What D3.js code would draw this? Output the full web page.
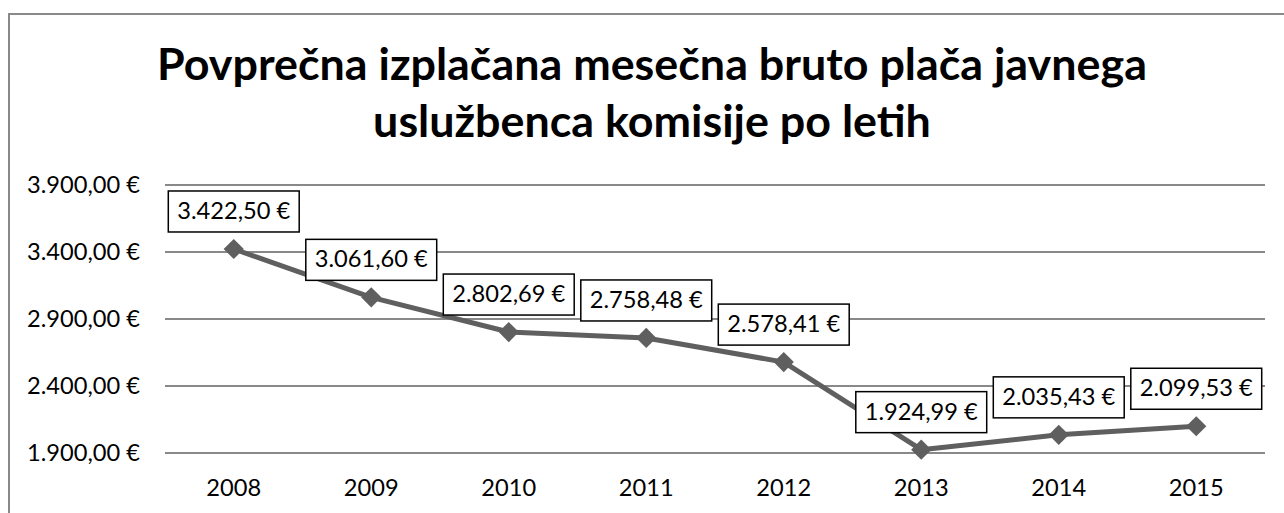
<!DOCTYPE html>
<html>
<head>
<meta charset="utf-8">
<script src="https://cdn.jsdelivr.net/npm/d3@7"></script>
<style>
  body { margin: 0; background: #fff; }
  svg { display: block; }
  text { font-family: Lato, 'Open Sans', sans-serif; fill: #000; }
</style>
</head>
<body>
<div id="chart"></div>
<script>
// data
var years = ['2008', '2009', '2010', '2011', '2012', '2013', '2014', '2015']
var salaries = [3422.50, 3061.60, 2802.69, 2758.48, 2578.41, 1924.99, 2035.43, 2099.53]
var yTicks = [1900, 2400, 2900, 3400, 3900]
var titleLines = ['Povprečna izplačana mesečna bruto plača javnega', 'uslužbenca komisije po letih']

var w = 1284, h = 513
var margin = { top: 185, right: 19, bottom: 60, left: 165 }

// number format with dot thousands and comma decimals
var locale = d3.formatLocale({ decimal: ',', thousands: '.', grouping: [3], currency: ['', ' €'] })
var fmt = locale.format('$,.2f')

var svg = d3.select('#chart').append('svg')
  .attr('width', w)
  .attr('height', h)

// outer frame (cut off at the right and bottom)
svg.append('rect')
  .attr('x', 9).attr('y', 14)
  .attr('width', 1300).attr('height', 600)
  .attr('fill', '#fff')
  .attr('stroke', '#898989')
  .attr('stroke-width', 2)

// fit a text element's font size to a width
function fitText(sel, targetWidth, base) {
  sel.style('font-size', base + 'px')
  var len = sel.node().getComputedTextLength()
  sel.style('font-size', (base * targetWidth / len) + 'px')
  return base * targetWidth / len
}

// title
var t1 = svg.append('text')
  .attr('x', 652).attr('y', 80)
  .attr('text-anchor', 'middle')
  .style('font-weight', 'bold')
  .text(titleLines[0])
var titleSize = fitText(t1, 990, 40)
svg.append('text')
  .attr('x', 652).attr('y', 137)
  .attr('text-anchor', 'middle')
  .style('font-weight', 'bold')
  .style('font-size', titleSize + 'px')
  .text(titleLines[1])

// scales
var x = d3.scaleBand()
  .domain(years)
  .range([margin.left, w - margin.right])

var y = d3.scaleLinear()
  .domain([1900, 3900])
  .range([453, 185])

// size of the small text
var probe = svg.append('text').text(fmt(3900))
var labelSize = fitText(probe, 113, 20)
probe.remove()

// gridlines
svg.append('g')
  .attr('class', 'grid')
  .selectAll('line')
  .data(yTicks)
  .enter().append('line')
  .attr('x1', margin.left)
  .attr('x2', w - margin.right)
  .attr('y1', function(d) { return y(d) })
  .attr('y2', function(d) { return y(d) })
  .attr('stroke', '#898989')
  .attr('stroke-width', 2)

// y axis labels
var yAxis = svg.append('g')
  .attr('transform', 'translate(' + margin.left + ',0)')
  .call(d3.axisLeft(y).tickValues(yTicks).tickFormat(fmt).tickSize(0).tickPadding(25))
yAxis.select('.domain').remove()
yAxis.selectAll('text')
  .style('font-family', 'Lato, sans-serif')
  .style('font-size', labelSize + 'px')
  .attr('fill', '#000')

// x axis labels
var xAxis = svg.append('g')
  .attr('transform', 'translate(0,' + 453 + ')')
  .call(d3.axisBottom(x).tickSize(0).tickPadding(26))
xAxis.select('.domain').remove()
xAxis.selectAll('text')
  .style('font-family', 'Lato, sans-serif')
  .style('font-size', labelSize + 'px')
  .attr('fill', '#000')

// line
var line = d3.line()
  .x(function(d, i) { return x(years[i]) + x.bandwidth() / 2 })
  .y(function(d) { return y(d) })

svg.append('path')
  .datum(salaries)
  .attr('d', line)
  .attr('fill', 'none')
  .attr('stroke', '#5f5f5f')
  .attr('stroke-width', 5)
  .attr('stroke-linejoin', 'round')

// diamond markers
svg.selectAll('.marker')
  .data(salaries)
  .enter().append('path')
  .attr('class', 'marker')
  .attr('d', d3.symbol().type(d3.symbolDiamond2).size(260))
  .attr('transform', function(d, i) {
    return 'translate(' + (x(years[i]) + x.bandwidth() / 2) + ',' + y(d) + ')'
  })
  .attr('fill', '#5f5f5f')

// data labels
var labels = svg.selectAll('.label')
  .data(salaries)
  .enter().append('g')
  .attr('class', 'label')
  .attr('transform', function(d, i) {
    return 'translate(' + (x(years[i]) + x.bandwidth() / 2) + ',' + (y(d) - 17) + ')'
  })

labels.append('rect')
  .attr('fill', '#fff')
  .attr('stroke', '#000')
  .attr('stroke-width', 1.5)

labels.append('text')
  .attr('text-anchor', 'middle')
  .attr('y', -13)
  .style('font-size', labelSize + 'px')
  .text(function(d) { return fmt(d) })

labels.each(function() {
  var g = d3.select(this)
  var tw = g.select('text').node().getComputedTextLength()
  g.select('rect')
    .attr('x', -tw / 2 - 9)
    .attr('y', -41)
    .attr('width', tw + 18)
    .attr('height', 41)
})
</script>
</body>
</html>
